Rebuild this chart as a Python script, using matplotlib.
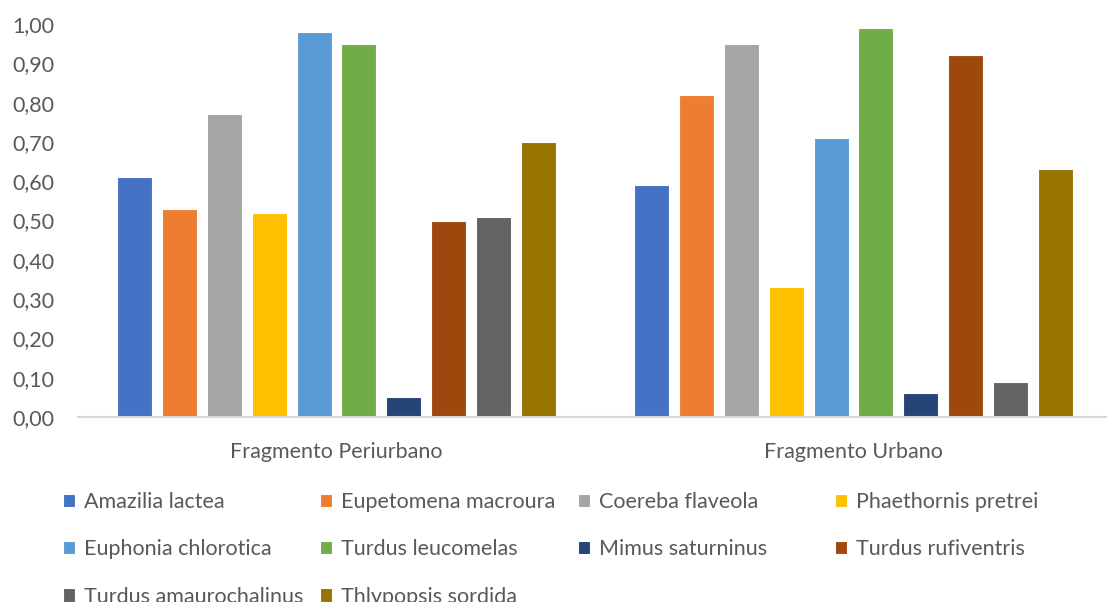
import matplotlib
matplotlib.use("Agg")
import matplotlib.pyplot as plt
import numpy as np

plt.rcParams['font.family'] = ['Lato', 'DejaVu Sans']

categories = ["Fragmento Periurbano", "Fragmento Urbano"]
species = [
    "Amazilia lactea", "Eupetomena macroura", "Coereba flaveola", "Phaethornis pretrei",
    "Euphonia chlorotica", "Turdus leucomelas", "Mimus saturninus", "Turdus rufiventris",
    "Turdus amaurochalinus", "Thlypopsis sordida",
]
periurbano = [0.61, 0.53, 0.77, 0.52, 0.98, 0.95, 0.05, 0.50, 0.51, 0.70]
urbano = [0.59, 0.82, 0.95, 0.33, 0.71, 0.99, 0.06, 0.92, 0.09, 0.63]
colors = ["#4472C4", "#ED7D31", "#A5A5A5", "#FFC000", "#5B9BD5",
          "#70AD47", "#264478", "#9E480E", "#636363", "#997300"]

W, H = 1107, 602
fig = plt.figure(figsize=(W / 100, H / 100), dpi=100)
ax = fig.add_axes([78 / W, 185 / H, 1034 / W, 393 / H])

text_color = "#595959"
fs = 15.5
x = np.arange(len(categories))
pitch = 0.0868
width = 0.0677
values = np.array([periurbano, urbano])  # shape (categories, species)
handles = []
for i, (name, col) in enumerate(zip(species, colors)):
    b = ax.bar(x + (i - 4.5) * pitch, values[:, i], width, color=col,
               edgecolor="white", linewidth=0.8, label=name, zorder=2)
    handles.append(b)

ax.set_xlim(-0.5, 1.5)
ax.set_ylim(0, 1.0)
yt = np.round(np.arange(0, 1.01, 0.1), 2)
ax.set_yticks(yt)
ax.set_yticklabels([f"{v:.2f}".replace(".", ",") for v in yt])
ax.set_xticks(x)
ax.set_xticklabels(categories)
ax.tick_params(axis="y", length=0, pad=17, labelsize=fs, labelcolor=text_color)
ax.tick_params(axis="x", length=0, pad=18, labelsize=fs, labelcolor=text_color)
for s in ["top", "right", "left"]:
    ax.spines[s].set_visible(False)
ax.spines["bottom"].set_color("#D9D9D9")
ax.spines["bottom"].set_linewidth(1.5)
ax.spines["bottom"].set_zorder(3)

# legend laid out in four fixed-width columns, filled row by row
col_x = [63, 320, 578, 835]
for c in range(4):
    idx = list(range(c, len(species), 4))
    leg = fig.legend([handles[k] for k in idx], [species[k] for k in idx],
                     loc="upper left", bbox_to_anchor=(col_x[c] / W, 1 - 492 / H),
                     frameon=False, fontsize=fs, labelcolor=text_color,
                     handlelength=0.58, handleheight=0.58, handletextpad=0.4,
                     labelspacing=1.27, borderaxespad=0, borderpad=0)

fig.savefig("out.png", dpi=100)
